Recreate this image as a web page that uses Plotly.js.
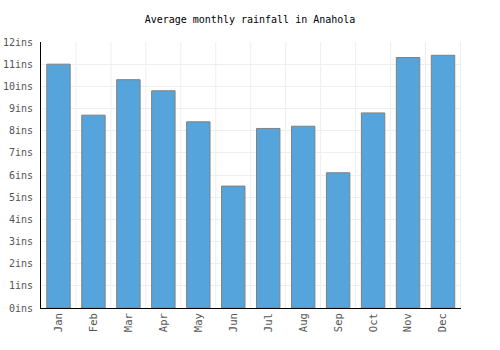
<!DOCTYPE html>
<html><head><meta charset="utf-8">
<script src="https://cdn.plot.ly/plotly-3.0.1.min.js"></script>
<style>body{margin:0;padding:0;background:#fff}#chart{width:500px;height:350px}</style>
</head><body><div id="chart"></div>
<script>
const months = ["Jan","Feb","Mar","Apr","May","Jun","Jul","Aug","Sep","Oct","Nov","Dec"];
const rainfall = [11.0, 8.7, 10.3, 9.8, 8.4, 5.5, 8.1, 8.2, 6.1, 8.8, 11.3, 11.4];
const yTicks = [0,1,2,3,4,5,6,7,8,9,10,11,12];
const yTickLabels = yTicks.map(v => v + "ins");

const trace = {
  type: "bar",
  x: months,
  y: rainfall,
  width: 0.67,
  marker: {color: "#55a5dc", line: {color: "#808080", width: 1}},
  hoverinfo: "none"
};
const layout = {
  width: 500, height: 350,
  margin: {l: 41, r: 39, t: 42, b: 42},
  paper_bgcolor: "#fff", plot_bgcolor: "#fff",
  title: {text: "Average monthly rainfall in Anahola", x: 0.5, xanchor: "center", y: 0.943, yanchor: "middle",
          font: {family: "DejaVu Sans Mono", size: 10, color: "#000"}},
  xaxis: {
    tickangle: -90, showgrid: false, showline: true, linecolor: "#000", linewidth: 1,
    tickfont: {family: "DejaVu Sans Mono", size: 10.5, color: "#555"},
    ticks: "", fixedrange: true
  },
  yaxis: {
    range: [0, 12], tickvals: yTicks, ticktext: yTickLabels,
    showgrid: true, gridcolor: "#eeeeee", gridwidth: 1,
    showline: true, linecolor: "#000", linewidth: 1, zeroline: false,
    tickfont: {family: "DejaVu Sans Mono", size: 10, color: "#555"},
    ticks: "", ticklabelstandoff: 5, fixedrange: true
  },
  shapes: months.map((m, i) => ({
    type: "line", xref: "x", yref: "paper", x0: i + 0.5, x1: i + 0.5, y0: 0, y1: 1,
    line: {color: "#eeeeee", width: 1}, layer: "below"
  })),
  showlegend: false, bargap: 0.33
};
Plotly.newPlot("chart", [trace], layout, {displayModeBar: false, staticPlot: true});
</script></body></html>
